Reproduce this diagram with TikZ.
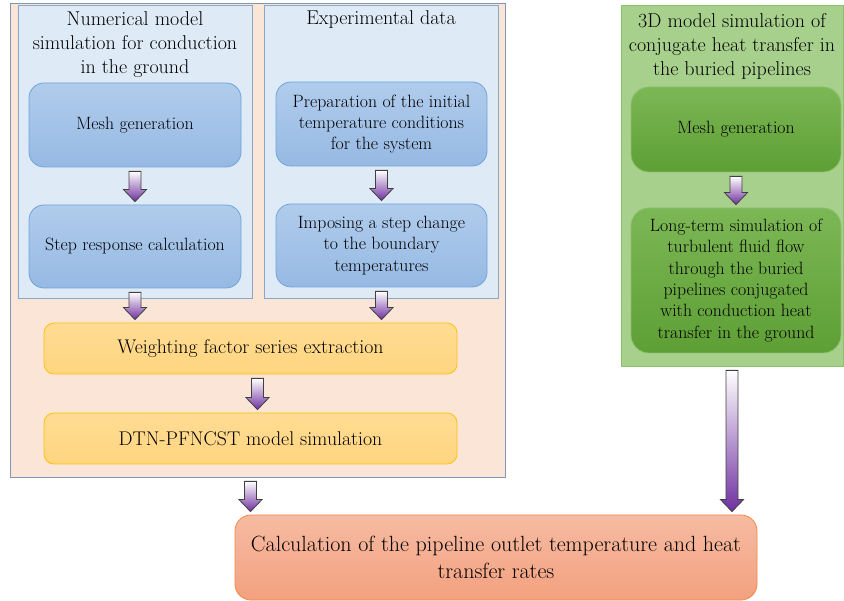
\documentclass[tikz,border=0pt]{standalone}
\usepackage{fontspec}
\usetikzlibrary{calc,shapes,arrows}

\definecolor{peachfill}{HTML}{FBE5D6}
\definecolor{peachline}{HTML}{7F97B5}
\definecolor{panelfill}{HTML}{DEEBF7}
\definecolor{panelline}{HTML}{8BA6C6}
\definecolor{bluetop}{HTML}{B0CCEC}
\definecolor{bluebot}{HTML}{96B9E3}
\definecolor{blueline}{HTML}{6FA3DA}
\definecolor{yellowtop}{HTML}{FFDC94}
\definecolor{yellowbot}{HTML}{FFD57F}
\definecolor{yellowline}{HTML}{FFC20E}
\definecolor{greenfill}{HTML}{A8D08D}
\definecolor{greenline}{HTML}{8CC16C}
\definecolor{greentop}{HTML}{7CB755}
\definecolor{greenbot}{HTML}{5E9F35}
\definecolor{salmontop}{HTML}{F6BBA2}
\definecolor{salmonbot}{HTML}{F4A17F}
\definecolor{salmonline}{HTML}{F0894A}
\definecolor{arrowpurple}{HTML}{7030A0}

% block arrow from a point down to a node
\newcommand{\blockarrow}[2]{%
  \path[blockarr] let \p1=($(#1)+(0,4)$), \p3=(#2.north), \p2=(\x1,\y3+3pt) in
    (\x1-6pt,\y1) -- (\x1+6pt,\y1) -- (\x1+6pt,\y2+12pt) -- (\x1+11.5pt,\y2+12pt)
    -- (\x2,\y2) -- (\x1-11.5pt,\y2+12pt) -- (\x1-6pt,\y2+12pt) -- cycle;}

\begin{document}
\begin{tikzpicture}[x=1pt, y=-1pt,
    panel/.style={draw=panelline, fill=panelfill, line width=0.8pt, minimum width=234pt, minimum height=293pt, inner sep=0pt},
    ptitle/.style={align=center, font=\fontsize{20}{24}\selectfont},
    box/.style={rounded corners=15pt, line width=0.8pt, align=center, font=\fontsize{17.8}{21.3}\selectfont},
    bluebox/.style={box, draw=blueline, top color=bluetop, bottom color=bluebot, minimum width=211pt, minimum height=84pt},
    yellowbox/.style={box, rounded corners=10pt, draw=yellowline, top color=yellowtop, bottom color=yellowbot, minimum width=413pt, minimum height=51pt, font=\fontsize{19.8}{24}\selectfont},
    greenbox/.style={box, rounded corners=18pt, draw=greenline, top color=greentop, bottom color=greenbot, minimum width=210pt},
    blockarr/.style={draw=black!75, line width=0.8pt, top color=white, bottom color=arrowpurple}]
\useasboundingbox (0,0) rectangle (844,601);

% panels
\node[draw=peachline, fill=peachfill, line width=0.8pt, minimum width=495pt, minimum height=474pt, inner sep=0pt] (ground) at (257.5,240) {};
\node[panel] (numpanel) at (135,151.5) {};
\node[panel] (exppanel) at (381,151.5) {};
\node[draw=greenline, fill=greenfill, line width=0.8pt, minimum width=222pt, minimum height=361pt, inner sep=0pt] (cfdpanel) at (732,185.5) {};

\node[ptitle] (numtitle) at (135,44.5) {Numerical model\\simulation for conduction\\in the ground};
\node[ptitle] (exptitle) at (381,20) {Experimental data};
\node[ptitle] (cfdtitle) at (732,46) {3D model simulation of\\conjugate heat transfer in\\the buried pipelines};

% boxes
\node[bluebox, minimum width=212pt] (mesh) at (135,125) {Mesh generation};
\node[bluebox, minimum width=212pt, minimum height=83pt] (stepresp) at (135,246.5) {Step response calculation};
\node[bluebox] (prep) at (381.5,124) {Preparation of the initial\\temperature conditions\\for the system};
\node[bluebox, minimum height=83pt] (impose) at (381.5,245.5) {Imposing a step change\\to the boundary\\temperatures};
\node[yellowbox] (weight) at (250.5,348.5) {Weighting factor series extraction};
\node[yellowbox] (dtn) at (250.5,438.5) {DTN-PFNCST model simulation};
\node[greenbox, minimum height=85pt] (cfdmesh) at (736,129.5) {Mesh generation};
\node[greenbox, minimum height=145pt] (longterm) at (736,280.5) {Long-term simulation of\\turbulent fluid flow\\through the buried\\pipelines conjugated\\with conduction heat\\transfer in the ground};
\node[box, rounded corners=16pt, draw=salmonline, top color=salmontop, bottom color=salmonbot, minimum width=522pt, minimum height=85pt, font=\fontsize{22}{27}\selectfont] (final) at (496,557.5) {Calculation of the pipeline outlet temperature and heat\\transfer rates};

% arrows
\blockarrow{mesh.south}{stepresp}
\blockarrow{prep.south}{impose}
\blockarrow{stepresp.south}{weight}
\blockarrow{impose.south}{weight}
\blockarrow{[xshift=7pt]weight.south}{dtn}
\blockarrow{ground.south -| dtn.south}{final}
\blockarrow{cfdmesh.south}{longterm}
\blockarrow{cfdpanel.south}{final}

\end{tikzpicture}
\end{document}
